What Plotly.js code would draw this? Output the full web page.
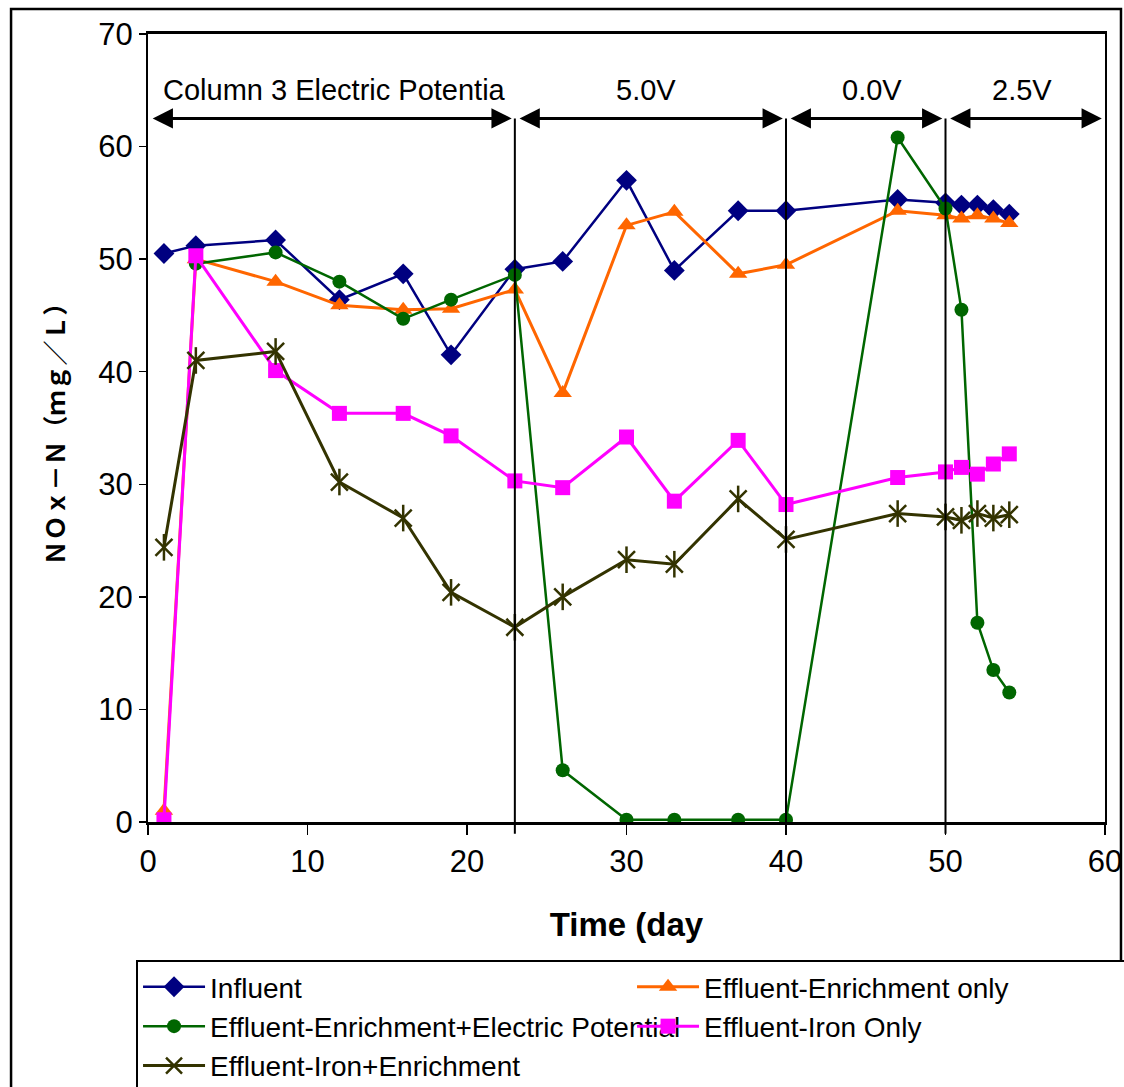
<!DOCTYPE html>
<html>
<head>
<meta charset="utf-8">
<script src="https://cdn.plot.ly/plotly-3.0.1.min.js"></script>
<style>
  html, body { margin: 0; padding: 0; background: #ffffff; overflow: hidden; }
  #chart { width: 1124px; height: 1087px; }
</style>
</head>
<body>
<div id="chart"></div>
<script>
// Sampling days (day of operation)
const days = [1, 3, 8, 12, 16, 19, 23, 26, 30, 33, 37, 40, 47, 50, 51, 52, 53, 54];

// NOx-N concentrations (mg/L) per series
const influent        = [50.5, 51.2, 51.7, 46.4, 48.7, 41.5, 49.1, 49.8, 57.0, 49.0, 54.3, 54.3, 55.3, 55.0, 54.8, 54.8, 54.4, 54.0];
const enrichmentOnly  = [1.0, 50.0, 48.0, 45.9, 45.5, 45.6, 47.3, 38.1, 53.0, 54.2, 48.7, 49.5, 54.3, 53.9, 53.6, 53.9, 53.6, 53.2];
const enrichmentEP    = [null, 49.6, 50.6, 48.0, 44.7, 46.4, 48.6, 4.6, 0.2, 0.2, 0.2, 0.2, 60.8, 54.5, 45.5, 17.7, 13.5, 11.5];
const ironOnly        = [0.2, 50.3, 40.1, 36.3, 36.3, 34.3, 30.3, 29.7, 34.2, 28.5, 33.9, 28.2, 30.6, 31.1, 31.5, 30.9, 31.8, 32.7];
const ironEnrichment  = [24.4, 41.0, 41.8, 30.2, 27.0, 20.4, 17.3, 20.0, 23.3, 22.9, 28.7, 25.1, 27.4, 27.1, 26.8, 27.4, 27.0, 27.3];

// Series names
const seriesNames = [
  'Influent',
  'Effluent-Enrichment only',
  'Effluent-Enrichment+Electric Potential',
  'Effluent-Iron Only',
  'Effluent-Iron+Enrichment'
];

// Electric potential phases: boundaries (day) and labels
const phaseBounds = [0, 23, 40, 50, 60];
const phaseLabels = ['Column 3 Electric Potentia', '5.0V', '0.0V', '2.5V'];
const phaseLabelX = [11.7, 31.2, 45.4, 54.8];

// Axis ticks
const xTicks = [0, 10, 20, 30, 40, 50, 60];
const yTicks = [0, 10, 20, 30, 40, 50, 60, 70];

const FONT = 'Arial, "Liberation Sans", sans-serif';

const traces = [
  {
    x: days, y: influent, name: seriesNames[0], type: 'scatter', mode: 'lines+markers',
    line: { color: '#000080', width: 2.5 },
    marker: { symbol: 'diamond', size: 16, color: '#000080' }
  },
  {
    x: days, y: enrichmentOnly, name: seriesNames[1], type: 'scatter', mode: 'lines+markers',
    line: { color: '#FF6600', width: 3 },
    marker: { symbol: 'triangle-up', size: 16, color: '#FF6600' }
  },
  {
    x: days, y: enrichmentEP, name: seriesNames[2], type: 'scatter', mode: 'lines+markers',
    line: { color: '#006600', width: 2.5 },
    marker: { symbol: 'circle', size: 14, color: '#006600' }
  },
  {
    x: days, y: ironOnly, name: seriesNames[3], type: 'scatter', mode: 'lines+markers',
    line: { color: '#FF00FF', width: 3 },
    marker: { symbol: 'square', size: 15, color: '#FF00FF' }
  },
  {
    x: days, y: ironEnrichment, name: seriesNames[4], type: 'scatter', mode: 'lines+markers',
    line: { color: '#333300', width: 3 },
    marker: { symbol: 'x-thin-open', size: 17, color: '#333300', line: { color: '#333300', width: 2.5 } }
  },
  // vertical stroke completing the six-armed star marker
  {
    x: days, y: ironEnrichment, name: seriesNames[4], type: 'scatter', mode: 'markers',
    showlegend: false, hoverinfo: 'skip',
    marker: { symbol: 'line-ns-open', size: 19, color: '#333300', line: { color: '#333300', width: 2.5 } }
  }
];

// Phase boundary lines and double-headed arrows
const shapes = [];
const annotations = [];
const arrowY = 62.5;
for (let i = 1; i < phaseBounds.length - 1; i++) {
  shapes.push({
    type: 'line', xref: 'x', yref: 'paper',
    x0: phaseBounds[i], x1: phaseBounds[i],
    y0: -0.015, y1: arrowY / 70,
    line: { color: '#000000', width: 2 }
  });
}
for (let i = 0; i < phaseBounds.length - 1; i++) {
  const a = phaseBounds[i] + 0.2, b = phaseBounds[i + 1] - 0.2;
  annotations.push({
    x: b, y: arrowY, ax: a, ay: arrowY, xref: 'x', yref: 'y', axref: 'x', ayref: 'y',
    text: '', showarrow: true, arrowhead: 2, startarrowhead: 2, arrowside: 'end+start',
    arrowsize: 1.35, startarrowsize: 1.35, arrowwidth: 3, arrowcolor: '#000000'
  });
  annotations.push({
    x: phaseLabelX[i], y: 65.0, xref: 'x', yref: 'y', text: phaseLabels[i],
    showarrow: false, font: { family: FONT, size: 29, color: '#000000' }
  });
}

// Outer chart frame
shapes.push({
  type: 'rect', xref: 'paper', yref: 'paper',
  x0: -0.1431, x1: 1.0167, y0: -0.45, y1: 1.0317,
  line: { color: '#000000', width: 2.5 }, layer: 'below'
});

const layout = {
  width: 1124, height: 1087,
  margin: { l: 148, r: 19, t: 34, b: 265, autoexpand: false },
  paper_bgcolor: '#ffffff', plot_bgcolor: '#ffffff',
  showlegend: true,
  font: { family: FONT, color: '#000000' },
  xaxis: {
    range: [0, 60], tickvals: xTicks, ticktext: xTicks.map(String),
    showgrid: false, zeroline: false,
    showline: true, linecolor: '#000000', linewidth: 3, mirror: true,
    ticks: 'outside', ticklen: 10, tickwidth: 1.5, tickcolor: '#000000',
    tickfont: { family: FONT, size: 31, color: '#000000' },
    title: { text: '<b>Time (day</b>', font: { family: FONT, size: 33, color: '#000000' }, standoff: 35 }
  },
  yaxis: {
    range: [0, 70], tickvals: yTicks, ticktext: yTicks.map(String),
    showgrid: false, zeroline: false,
    showline: true, linecolor: '#000000', linewidth: 2, mirror: true,
    ticks: 'outside', ticklen: 7, tickwidth: 1.5, tickcolor: '#000000',
    tickfont: { family: FONT, size: 31, color: '#000000' },
    title: {
      text: '<b>ＮＯｘ－Ｎ（ｍｇ／Ｌ）</b>',
      font: { family: '"Noto Sans CJK SC", sans-serif', size: 25, color: '#000000' },
      standoff: 26
    }
  },
  legend: {
    orientation: 'h', x: -0.0125, y: -0.1752, xanchor: 'left', yanchor: 'top',
    entrywidth: 417, entrywidthmode: 'pixels', itemwidth: 62,
    bgcolor: '#ffffff', bordercolor: '#000000', borderwidth: 2,
    font: { family: FONT, size: 28, color: '#000000' },
    traceorder: 'normal'
  },
  shapes: shapes,
  annotations: annotations
};

Plotly.newPlot('chart', traces, layout, { displayModeBar: false, staticPlot: true });
</script>
</body>
</html>
